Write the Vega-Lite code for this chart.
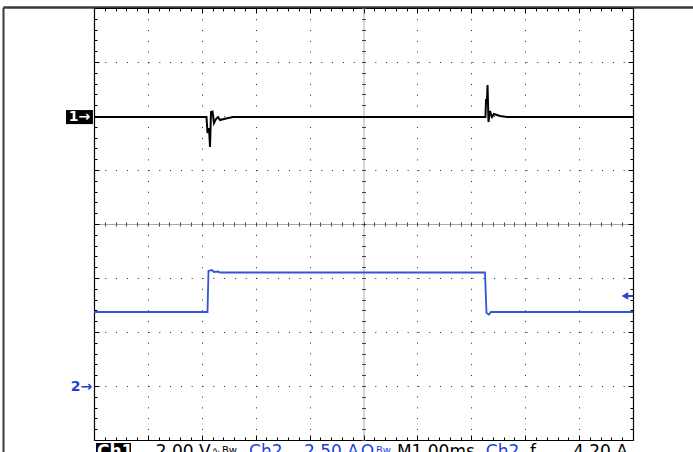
{
  "$schema": "https://vega.github.io/schema/vega-lite/v6.json",
  "width": 539,
  "height": 432,
  "autosize": {"type": "none"},
  "padding": {"left": 94, "top": 8, "right": 60, "bottom": 12},
  "background": "white",
  "config": {
    "view": {"stroke": null},
    "axis": {"labels": false, "title": null, "ticks": false, "domain": false, "grid": false},
    "text": {"font": "DejaVu Sans"}
  },
  "datasets": {
    "frame": [{"a": 0, "b": 0}],
    "ch1": [
      {"t": 0, "v": 1.98}, {"t": 2.087, "v": 1.98}, {"t": 2.106, "v": 1.685}, {"t": 2.134, "v": 1.778},
      {"t": 2.152, "v": 1.426}, {"t": 2.171, "v": 2.074}, {"t": 2.199, "v": 2.083}, {"t": 2.226, "v": 1.87},
      {"t": 2.263, "v": 1.944}, {"t": 2.301, "v": 1.98}, {"t": 2.338, "v": 1.926}, {"t": 2.449, "v": 1.954},
      {"t": 2.579, "v": 1.98}, {"t": 7.263, "v": 1.98}, {"t": 7.273, "v": 2.296}, {"t": 7.291, "v": 2.296},
      {"t": 7.301, "v": 2.574}, {"t": 7.319, "v": 1.889}, {"t": 7.347, "v": 2.093}, {"t": 7.384, "v": 1.981},
      {"t": 7.421, "v": 2.037}, {"t": 7.477, "v": 2.019}, {"t": 7.532, "v": 2.0}, {"t": 7.662, "v": 1.981},
      {"t": 10, "v": 1.98}
    ],
    "ch2": [
      {"t": 0, "v": -1.63}, {"t": 2.106, "v": -1.63}, {"t": 2.124, "v": -0.87}, {"t": 2.189, "v": -0.852},
      {"t": 2.226, "v": -0.889}, {"t": 2.301, "v": -0.88}, {"t": 2.338, "v": -0.898}, {"t": 7.254, "v": -0.898},
      {"t": 7.282, "v": -1.648}, {"t": 7.328, "v": -1.676}, {"t": 7.365, "v": -1.63}, {"t": 10, "v": -1.63}
    ],
    "trig": [{"t": 9.85, "t2": 10, "v": -1.333}],
    "boxes": [
      {"t": 0.037, "t2": 0.686, "v": -4.054, "v2": -4.6},
      {"t": -0.52, "t2": -0.02, "v": 2.11, "v2": 1.85}
    ],
    "labels": [
      {"t": 0.056, "v": -4.315, "label": "Ch1", "s": "inv"},
      {"t": 1.145, "v": -4.315, "label": "2.00 V", "s": "k"},
      {"t": 2.19, "v": -4.26, "label": "∿", "s": "ksub"},
      {"t": 2.375, "v": -4.26, "label": "Bw", "s": "ksub"},
      {"t": 2.876, "v": -4.315, "label": "Ch2", "s": "b"},
      {"t": 3.896, "v": -4.315, "label": "2.50 A", "s": "b"},
      {"t": 4.955, "v": -4.315, "label": "Ω", "s": "b"},
      {"t": 5.23, "v": -4.26, "label": "Bw", "s": "bsub"},
      {"t": 5.62, "v": -4.315, "label": "M1.00ms", "s": "k"},
      {"t": 7.27, "v": -4.315, "label": "Ch2", "s": "b"},
      {"t": 8.09, "v": -4.315, "label": "ƒ", "s": "k"},
      {"t": 8.887, "v": -4.315, "label": "4.20 A", "s": "k"},
      {"t": -0.47, "v": 1.98, "label": "1→", "s": "m1"},
      {"t": -0.43, "v": -3.01, "label": "2→", "s": "m2"}
    ]
  },
  "layer": [
    {
      "data": {"name": "frame"},
      "mark": {"type": "point", "opacity": 0},
      "encoding": {
        "x": {"field": "a", "type": "quantitative",
          "scale": {"domain": [0, 1], "range": [-91, 599], "nice": false, "zero": false},
          "axis": {"orient": "top", "offset": 1, "domain": true, "domainColor": "#3a3a3a", "domainWidth": 2.5, "ticks": false, "labels": false, "grid": false, "title": null}},
        "y": {"field": "b", "type": "quantitative",
          "scale": {"domain": [0, 1], "range": [444, -1], "nice": false, "zero": false},
          "axis": {"orient": "left", "offset": 91, "domain": true, "domainColor": "#3a3a3a", "domainWidth": 2, "ticks": false, "labels": false, "grid": false, "title": null}}
      }
    },
    {
      "layer": [
        {
          "data": {"name": "ch1"},
          "mark": {"type": "line", "color": "#000000", "strokeWidth": 2, "interpolate": "linear"},
          "encoding": {
            "x": {"field": "t", "type": "quantitative", "scale": {"domain": [0, 10], "nice": false, "zero": false},
              "axis": {"orient": "bottom", "domain": true, "domainColor": "#000000", "domainWidth": 1.2, "ticks": true, "tickCount": 50, "tickColor": "#000000", "tickWidth": 1,
                "tickSize": {"condition": {"test": "abs(datum.value-round(datum.value))<0.001", "value": -5}, "value": -3},
                "grid": true, "gridColor": "#222222", "gridWidth": 1, "gridDash": [1, 9.78],
                "gridOpacity": {"condition": {"test": "abs(datum.value-round(datum.value))<0.001 && abs(datum.value-5)>0.001", "value": 1}, "value": 0},
                "labels": false, "title": null}},
            "y": {"field": "v", "type": "quantitative", "scale": {"domain": [-4, 4], "nice": false, "zero": false},
              "axis": {"orient": "left", "domain": true, "domainColor": "#000000", "domainWidth": 1.2, "ticks": true, "tickCount": 40, "tickColor": "#000000", "tickWidth": 1,
                "tickSize": {"condition": {"test": "abs(datum.value-round(datum.value))<0.001", "value": -5}, "value": -3},
                "grid": true, "gridColor": "#222222", "gridWidth": 1, "gridDash": [1, 9.8],
                "gridOpacity": {"condition": {"test": "abs(datum.value-round(datum.value))<0.001 && abs(datum.value)>0.001", "value": 1}, "value": 0},
                "labels": false, "title": null}}
          }
        },
        {
          "data": {"name": "ch2"},
          "mark": {"type": "line", "color": "#3354d8", "strokeWidth": 1.8, "interpolate": "linear"},
          "encoding": {
            "x": {"field": "t", "type": "quantitative", "scale": {"domain": [0, 10], "nice": false, "zero": false},
              "axis": {"orient": "top", "domain": true, "domainColor": "#000000", "domainWidth": 1, "ticks": true, "tickCount": 50, "tickColor": "#000000", "tickWidth": 1,
                "tickSize": {"condition": {"test": "abs(datum.value-round(datum.value))<0.001", "value": -5}, "value": -3},
                "grid": false, "labels": false, "title": null}},
            "y": {"field": "v", "type": "quantitative", "scale": {"domain": [-4, 4], "nice": false, "zero": false},
              "axis": {"orient": "right", "domain": true, "domainColor": "#000000", "domainWidth": 1.2, "ticks": true, "tickCount": 40, "tickColor": "#000000", "tickWidth": 1,
                "tickSize": {"condition": {"test": "abs(datum.value-round(datum.value))<0.001", "value": -5}, "value": -3},
                "grid": false, "labels": false, "title": null}}
          }
        },
        {
          "data": {"name": "trig"},
          "mark": {"type": "point", "shape": "triangle-left", "filled": true, "color": "#2a48d4", "size": 60, "opacity": 1},
          "encoding": {
            "x": {"field": "t", "type": "quantitative", "scale": {"domain": [0, 10], "nice": false, "zero": false},
              "axis": {"orient": "bottom", "offset": -216, "domain": true, "domainColor": "#555555", "domainDash": [1, 1], "domainWidth": 1, "ticks": true, "tickCount": 50, "tickColor": "#444444", "tickSize": 2, "grid": false, "labels": false, "title": null}},
            "y": {"field": "v", "type": "quantitative", "scale": {"domain": [-4, 4], "nice": false, "zero": false},
              "axis": {"orient": "left", "offset": -269.5, "domain": true, "domainColor": "#555555", "domainDash": [1, 1], "domainWidth": 1, "ticks": true, "tickCount": 40, "tickColor": "#444444", "tickSize": 2, "grid": false, "labels": false, "title": null}}
          }
        },
        {
          "data": {"name": "trig"},
          "mark": {"type": "rule", "color": "#2a48d4", "strokeWidth": 2},
          "encoding": {
            "x": {"field": "t", "type": "quantitative", "scale": {"domain": [0, 10], "nice": false, "zero": false},
              "axis": {"orient": "bottom", "offset": -216, "domain": false, "ticks": true, "tickCount": 50, "tickColor": "#444444", "tickSize": -2, "grid": false, "labels": false, "title": null}},
            "x2": {"field": "t2"},
            "y": {"field": "v", "type": "quantitative", "scale": {"domain": [-4, 4], "nice": false, "zero": false},
              "axis": {"orient": "left", "offset": -269.5, "domain": false, "ticks": true, "tickCount": 40, "tickColor": "#444444", "tickSize": -2, "grid": false, "labels": false, "title": null}}
          }
        },
        {
          "data": {"name": "boxes"},
          "mark": {"type": "rect", "color": "#000000", "clip": false},
          "encoding": {
            "x": {"field": "t", "type": "quantitative", "scale": {"domain": [0, 10], "nice": false, "zero": false}, "axis": null},
            "x2": {"field": "t2"},
            "y": {"field": "v", "type": "quantitative", "scale": {"domain": [-4, 4], "nice": false, "zero": false}, "axis": null},
            "y2": {"field": "v2"}
          }
        },
        {
          "data": {"name": "labels"},
          "transform": [{"filter": "datum.s == 'k'"}],
          "mark": {"type": "text", "align": "left", "baseline": "alphabetic", "fontSize": 17, "color": "#000000"},
          "encoding": {
            "x": {"field": "t", "type": "quantitative", "scale": {"domain": [0, 10], "nice": false, "zero": false}, "axis": null},
            "y": {"field": "v", "type": "quantitative", "scale": {"domain": [-4, 4], "nice": false, "zero": false}, "axis": null},
            "text": {"field": "label"}
          }
        },
        {
          "data": {"name": "labels"},
          "transform": [{"filter": "datum.s == 'inv'"}],
          "mark": {"type": "text", "align": "left", "baseline": "alphabetic", "fontSize": 17, "fontWeight": "bold", "color": "#ffffff"},
          "encoding": {
            "x": {"field": "t", "type": "quantitative", "scale": {"domain": [0, 10], "nice": false, "zero": false}, "axis": null},
            "y": {"field": "v", "type": "quantitative", "scale": {"domain": [-4, 4], "nice": false, "zero": false}, "axis": null},
            "text": {"field": "label"}
          }
        },
        {
          "data": {"name": "labels"},
          "transform": [{"filter": "datum.s == 'b'"}],
          "mark": {"type": "text", "align": "left", "baseline": "alphabetic", "fontSize": 17, "color": "#1f3fd6"},
          "encoding": {
            "x": {"field": "t", "type": "quantitative", "scale": {"domain": [0, 10], "nice": false, "zero": false}, "axis": null},
            "y": {"field": "v", "type": "quantitative", "scale": {"domain": [-4, 4], "nice": false, "zero": false}, "axis": null},
            "text": {"field": "label"}
          }
        },
        {
          "data": {"name": "labels"},
          "transform": [{"filter": "datum.s == 'ksub'"}],
          "mark": {"type": "text", "align": "left", "baseline": "alphabetic", "fontSize": 10, "color": "#000000"},
          "encoding": {
            "x": {"field": "t", "type": "quantitative", "scale": {"domain": [0, 10], "nice": false, "zero": false}, "axis": null},
            "y": {"field": "v", "type": "quantitative", "scale": {"domain": [-4, 4], "nice": false, "zero": false}, "axis": null},
            "text": {"field": "label"}
          }
        },
        {
          "data": {"name": "labels"},
          "transform": [{"filter": "datum.s == 'bsub'"}],
          "mark": {"type": "text", "align": "left", "baseline": "alphabetic", "fontSize": 10, "color": "#1f3fd6"},
          "encoding": {
            "x": {"field": "t", "type": "quantitative", "scale": {"domain": [0, 10], "nice": false, "zero": false}, "axis": null},
            "y": {"field": "v", "type": "quantitative", "scale": {"domain": [-4, 4], "nice": false, "zero": false}, "axis": null},
            "text": {"field": "label"}
          }
        },
        {
          "data": {"name": "labels"},
          "transform": [{"filter": "datum.s == 'm1'"}],
          "mark": {"type": "text", "align": "left", "baseline": "middle", "fontSize": 14, "fontWeight": "bold", "color": "#ffffff"},
          "encoding": {
            "x": {"field": "t", "type": "quantitative", "scale": {"domain": [0, 10], "nice": false, "zero": false}, "axis": null},
            "y": {"field": "v", "type": "quantitative", "scale": {"domain": [-4, 4], "nice": false, "zero": false}, "axis": null},
            "text": {"field": "label"}
          }
        },
        {
          "data": {"name": "labels"},
          "transform": [{"filter": "datum.s == 'm2'"}],
          "mark": {"type": "text", "align": "left", "baseline": "middle", "fontSize": 14, "fontWeight": "bold", "color": "#1f3fd6"},
          "encoding": {
            "x": {"field": "t", "type": "quantitative", "scale": {"domain": [0, 10], "nice": false, "zero": false}, "axis": null},
            "y": {"field": "v", "type": "quantitative", "scale": {"domain": [-4, 4], "nice": false, "zero": false}, "axis": null},
            "text": {"field": "label"}
          }
        }
      ],
      "resolve": {"axis": {"x": "independent", "y": "independent"}}
    }
  ],
  "resolve": {"scale": {"x": "independent", "y": "independent"}, "axis": {"x": "independent", "y": "independent"}}
}
